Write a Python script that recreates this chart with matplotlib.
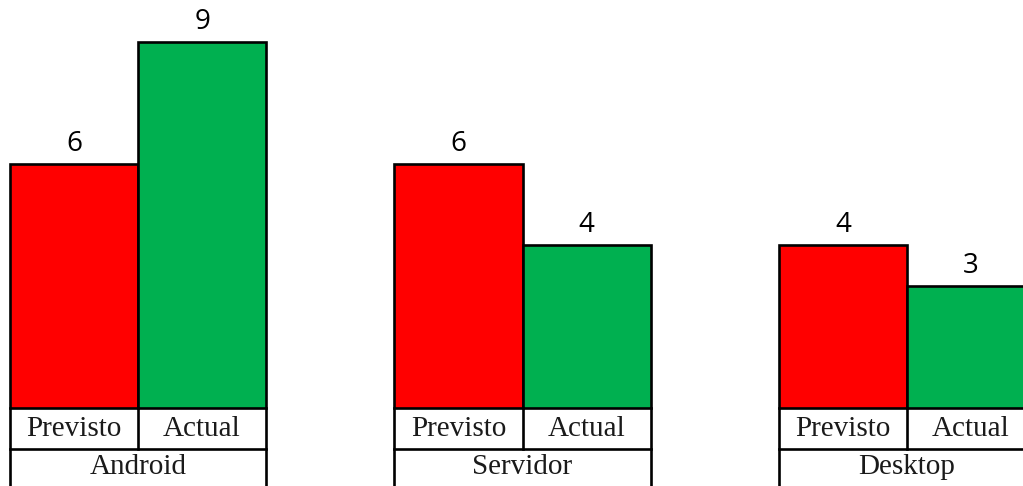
import numpy as np
import matplotlib.pyplot as plt

# data
categories = ["Android", "Servidor", "Desktop"]
series_names = ["Previsto", "Actual"]
previsto = [6, 6, 4]
actual = [9, 4, 3]

colors = ["#FF0000", "#00B050"]

W, H = 1023, 486
fig = plt.figure(figsize=(W / 100, H / 100), dpi=100)
ax = fig.add_axes([0, 0, 1, 1])

# pixel layout of the reference -> data coordinates
px_per_group = 384.5
x0_px = 138.0           # centre of the first group
y0_px = 407.5           # pixel row of value 0 (from top)
px_per_unit = 40.6

ax.set_xlim(-x0_px / px_per_group, (W - x0_px) / px_per_group)
ax.set_ylim(-(H - y0_px) / px_per_unit, y0_px / px_per_unit)
ax.axis("off")


def py(pix):
    # pixel row from top -> y data value
    return (y0_px - pix) / px_per_unit


x = np.arange(len(categories))
bw = 1 / 3
lw = 1.9
for k, vals in enumerate([previsto, actual]):
    xs = x + (k - 0.5) * bw
    ax.bar(xs, vals, width=bw, color=colors[k], edgecolor="black",
           linewidth=lw, zorder=2)
    for xi, v in zip(xs, vals):
        ax.text(xi, v + py(y0_px - 6), str(v), ha="center", va="bottom",
                fontsize=20, family="Open Sans", color="black")

# two-level category table below the bars
row1_bottom = py(449)
row2_bottom = py(492)
for i, cat in enumerate(categories):
    left, mid, right = i - bw, i, i + bw
    ax.plot([left, right], [row1_bottom, row1_bottom], color="black", lw=lw, clip_on=False)
    ax.plot([left, left], [0, row2_bottom], color="black", lw=lw, clip_on=False)
    ax.plot([right, right], [0, row2_bottom], color="black", lw=lw, clip_on=False)
    ax.plot([mid, mid], [0, row1_bottom], color="black", lw=lw, clip_on=False)
    for k, name in enumerate(series_names):
        ax.text(i + (k - 0.5) * bw, py(429), name, ha="center", va="center",
                fontsize=21, family="Liberation Serif", color="#1a1a1a")
    ax.text(i, py(467), cat, ha="center", va="center",
            fontsize=21, family="Liberation Serif", color="#1a1a1a")

fig.savefig("out.png", dpi=100)
